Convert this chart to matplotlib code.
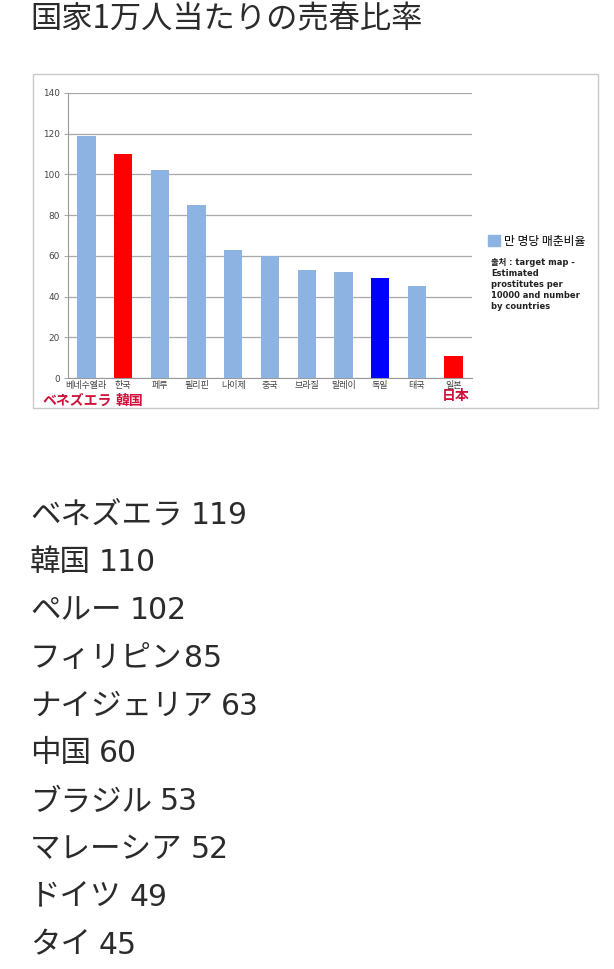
import matplotlib
matplotlib.use('Agg')
import matplotlib.pyplot as plt
import matplotlib.transforms as mtransforms
from matplotlib.patches import Rectangle, Patch

plt.rcParams['font.family'] = ['Noto Sans CJK JP', 'DejaVu Sans']

# data
kr_labels = ['베네수엘라', '한국', '페루', '필리핀', '나이제', '중국', '브라질', '말레이', '독일', '태국', '일본']
jp_names = ['ベネズエラ', '韓国', 'ペルー', 'フィリピン', 'ナイジェリア', '中国', 'ブラジル', 'マレーシア', 'ドイツ', 'タイ']
rates = [119, 110, 102, 85, 63, 60, 53, 52, 49, 45, 11]
list_seps = [' ', ' ', ' ', '', ' ', ' ', ' ', ' ', ' ', ' ']
y_ticks = [0, 20, 40, 60, 80, 100, 120, 140]
red_notes = [('ベネズエラ', 0), ('韓国', 1), ('日本', 10)]

light_blue = '#8DB3E2'
bar_colors = [light_blue, '#FF0000', light_blue, light_blue, light_blue, light_blue,
              light_blue, light_blue, '#0000FF', light_blue, '#FF0000']

W, H = 614, 969
fig = plt.figure(figsize=(W / 100, H / 100), dpi=100)
fig.patch.set_facecolor('white')

def fx(px):
    return px / W

def fy(px):
    return 1 - px / H

# title
fig.text(fx(30), fy(19), '国家1万人当たりの売春比率', fontsize=22.5, color='#2b2b2b',
         ha='left', va='center')

# chart frame (screenshot border)
fig.patches.append(Rectangle((fx(33), fy(408)), fx(598) - fx(33), fy(74) - fy(408),
                             transform=fig.transFigure, fill=False,
                             edgecolor='#C9C9C9', lw=1.0))

ax = fig.add_axes([fx(68), fy(378), fx(472) - fx(68), fy(93) - fy(378)])
x = list(range(len(rates)))
ax.bar(x, rates, width=0.5, color=bar_colors, zorder=3)
ax.set_xlim(-0.5, len(rates) - 0.5)
ax.set_ylim(0, 140)
ax.set_yticks(y_ticks)
ax.set_yticklabels([str(v) for v in y_ticks], fontsize=6.4, color='#444444',
                   family=['DejaVu Sans'])
ax.set_xticks(x)
ax.set_xticklabels(kr_labels, fontsize=6.5, color='#444444',
                   family=['Noto Sans CJK KR', 'DejaVu Sans'])
ax.tick_params(axis='x', length=0, pad=2)
ax.tick_params(axis='y', length=3, width=0.6, color='#999999', pad=3)
ax.yaxis.grid(True, color='#A8A8A8', lw=0.9, zorder=0)
for s in ['top', 'right']:
    ax.spines[s].set_visible(False)
ax.spines['left'].set_color('#999999')
ax.spines['bottom'].set_color('#999999')
ax.spines['left'].set_linewidth(0.8)
ax.spines['bottom'].set_linewidth(0.8)

# red japanese notes under the korean labels
trans = mtransforms.blended_transform_factory(ax.transData, fig.transFigure)
for name, idx in red_notes:
    dx = {0: -0.25, 1: 0.18}.get(idx, 0.07)
    yy = fy(396) if idx == len(rates) - 1 else fy(401)
    ax.text(idx + dx, yy, name, transform=trans, ha='center', va='center',
            fontsize=10, color='#D0103A', fontweight='bold', clip_on=False)

# legend
fig.legend(handles=[Patch(color=light_blue, label='만 명당 매춘비율')],
           loc='center left', bbox_to_anchor=(fx(482), fy(241)), frameon=False,
           handlelength=1.0, handleheight=1.0, handletextpad=0.4, borderpad=0,
           prop={'family': ['Noto Sans CJK KR', 'DejaVu Sans'], 'size': 8.5})
fig.text(fx(491), fy(258), '출처 : target map -\nEstimated\nprostitutes per\n10000 and number\nby countries',
         ha='left', va='top', fontsize=6, fontweight='bold', color='#222222',
         linespacing=1.3, family=['DejaVu Sans', 'Noto Sans CJK KR'])

# list below the chart: names in CJK font, numbers in a wider sans
renderer = fig.canvas.get_renderer()
for i, (name, sep, v) in enumerate(zip(jp_names, list_seps, rates)):
    yy = fy(515 + 47.8 * i)
    t = fig.text(fx(30), yy, name, fontsize=22, color='#2b2b2b',
                 ha='left', va='center')
    bb = t.get_window_extent(renderer)
    gap = 8 if sep else 1
    fig.text((bb.x1 + gap) / W, yy, str(v), fontsize=21.5, color='#2b2b2b',
             ha='left', va='center', family=['DejaVu Sans'])

fig.savefig('out.png', dpi=100)
